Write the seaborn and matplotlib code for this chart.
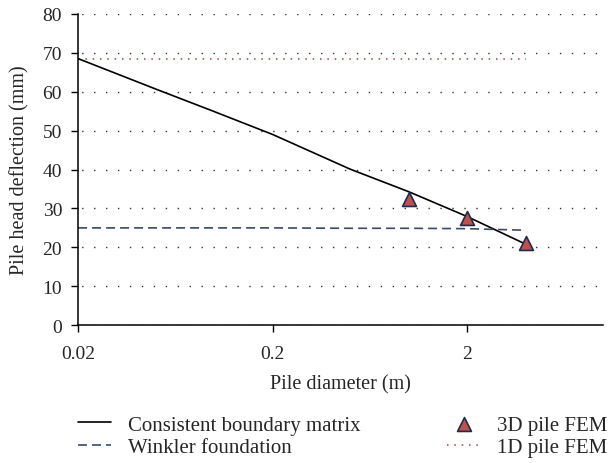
import numpy as np
import pandas as pd
import seaborn as sns
import matplotlib.pyplot as plt
from matplotlib.ticker import NullLocator

##### data
diam = [0.02, 0.05, 0.1, 0.2, 0.5, 1, 2, 4]
cbm = [68.5, 60.7, 54.9, 49.0, 40.1, 34.3, 27.9, 20.8]          # consistent boundary matrix
winkler = [25.0, 25.0, 25.0, 25.0, 24.9, 24.9, 24.8, 24.4]      # winkler foundation
fem1d = [68.3, 68.3, 68.3, 68.3, 68.3, 68.3, 68.3, 68.3]        # 1D pile FEM
fem3d_d = [1, 2, 4]
fem3d = [32.3, 27.6, 21.0]

df = pd.DataFrame({"d": diam, "cbm": cbm, "winkler": winkler, "fem1d": fem1d})
pts = pd.DataFrame({"d": fem3d_d, "u": fem3d})

sns.set_style("ticks")
plt.rcParams['font.family'] = ['Liberation Serif', 'DejaVu Serif']

fig = plt.figure(figsize=(6.1, 4.64), dpi=100)
ax = fig.add_axes([0.128, 0.297, 0.861, 0.671])

sns.lineplot(data=df, x="d", y="fem1d", ax=ax, color="#9A4444",
             linestyle=(0, (1, 3.8)), linewidth=1.1, label="1D pile FEM")
sns.lineplot(data=df, x="d", y="cbm", ax=ax, color="black",
             linewidth=1.2, label="Consistent boundary matrix")
sns.lineplot(data=df, x="d", y="winkler", ax=ax, color="#3A4A68",
             linestyle=(0, (5.4, 3.0)), linewidth=1.2, label="Winkler foundation")
sns.scatterplot(data=pts, x="d", y="u", ax=ax, marker="^", s=100,
                color="#C0504D", edgecolor="#1F2D4D", linewidth=1.2,
                label="3D pile FEM", zorder=5)

ax.set_xscale("log")
ax.set_xlim(0.02, 10)
ax.set_ylim(0, 80)
ax.set_xticks([0.02, 0.2, 2])
ax.set_xticklabels(["0.02", "0.2", "2"])
ax.xaxis.set_minor_locator(NullLocator())
ax.set_yticks(range(0, 81, 10))
ax.yaxis.grid(True, color="#333333", linestyle=(6, (1, 7.6)), linewidth=1.0)
ax.tick_params(labelsize=14, width=1, color="black")
ax.tick_params(axis="y", length=5, pad=6.5)
ax.tick_params(axis="x", length=5, pad=9)
sns.despine(ax=ax)
for s in ["left", "bottom"]:
    ax.spines[s].set_color("black")
    ax.spines[s].set_linewidth(1.1)

ax.set_xlabel("Pile diameter (m)", fontsize=14.5, labelpad=9)
ax.set_ylabel("Pile head deflection (mm)", fontsize=14.5, labelpad=9)

# legend below: left column lines, right column marker + dotted
h, l = ax.get_legend_handles_labels()
order = [1, 2, 3, 0]
ax.legend([h[i] for i in order], [l[i] for i in order], ncol=2,
          loc="upper left", bbox_to_anchor=(0.128, 0.103), bbox_transform=fig.transFigure,
          frameon=False, fontsize=15, handlelength=1.6, columnspacing=4.15,
          labelspacing=0.12, handletextpad=0.8, borderpad=0, borderaxespad=0)

fig.savefig("out.png", dpi=100)
